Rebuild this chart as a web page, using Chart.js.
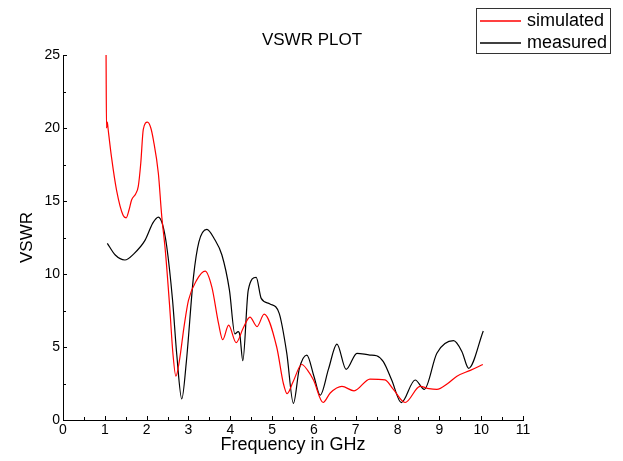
<!DOCTYPE html>
<html>
<head>
<meta charset="utf-8">
<script src="https://cdn.jsdelivr.net/npm/chart.js@4/dist/chart.umd.min.js"></script>
<style>
  html, body { margin: 0; padding: 0; background: #fff; }
  #wrap { width: 623px; height: 461px; }
</style>
</head>
<body>
<div id="wrap"><canvas id="c" width="623" height="461"></canvas></div>
<script>
// frequency (GHz) and VSWR
const simFreq = [1.03, 1.04, 1.06, 1.08, 1.16, 1.28, 1.44, 1.51, 1.58, 1.64, 1.74, 1.80, 1.86, 1.92, 2.02, 2.10, 2.16, 2.28, 2.36, 2.45, 2.55, 2.63, 2.70, 2.78, 2.90, 3.00, 3.20, 3.40, 3.56, 3.72, 3.82, 3.96, 4.14, 4.31, 4.47, 4.64, 4.81, 5.11, 5.27, 5.36, 5.50, 5.71, 5.85, 5.99, 6.22, 6.39, 6.67, 6.96, 7.34, 7.70, 7.90, 8.18, 8.54, 8.75, 8.94, 9.20, 9.42, 9.74, 10.04];
const simVswr = [25.0, 20.0, 20.4, 19.9, 18.0, 15.75, 14.0, 13.85, 14.4, 15.07, 15.5, 16.0, 17.6, 19.9, 20.4, 20.0, 19.2, 16.9, 14.0, 11.5, 7.8, 4.5, 3.0, 4.0, 6.5, 8.2, 9.6, 10.2, 9.1, 6.6, 5.5, 6.5, 5.3, 6.3, 7.05, 6.4, 7.25, 5.0, 2.5, 1.8, 2.6, 3.8, 3.4, 2.74, 1.2, 1.85, 2.3, 2.0, 2.8, 2.75, 2.1, 1.2, 2.3, 2.15, 2.1, 2.5, 3.0, 3.4, 3.8];

const measFreq = [1.06, 1.25, 1.48, 1.70, 1.96, 2.15, 2.28, 2.38, 2.48, 2.62, 2.72, 2.84, 2.95, 3.12, 3.25, 3.44, 3.62, 3.80, 3.98, 4.11, 4.19, 4.23, 4.30, 4.43, 4.62, 4.74, 4.95, 5.17, 5.35, 5.51, 5.65, 5.83, 6.00, 6.15, 6.35, 6.55, 6.77, 7.03, 7.34, 7.50, 7.66, 7.86, 8.09, 8.42, 8.64, 8.94, 9.34, 9.54, 9.70, 10.05];
const measVswr = [12.1, 11.3, 10.96, 11.4, 12.3, 13.5, 13.9, 13.4, 11.9, 8.2, 4.5, 1.44, 4.0, 9.8, 12.2, 13.06, 12.4, 11.3, 8.9, 5.9, 6.05, 5.8, 4.06, 8.9, 9.77, 8.33, 7.95, 7.3, 4.6, 1.14, 3.5, 4.45, 3.0, 1.7, 3.5, 5.2, 3.47, 4.57, 4.45, 4.4, 4.0, 2.74, 1.19, 2.74, 2.1, 4.57, 5.43, 4.68, 3.54, 6.1];

const seriesNames = ['simulated', 'measured'];
const seriesColors = ['#ff0000', '#000000'];
const chartTitle = 'VSWR PLOT';

const FONT = 'Liberation Sans, Arial, sans-serif';

function pts(xs, ys) {
  return xs.map((x, i) => ({ x: x, y: ys[i] }));
}

// small inward ticks, major + minor
const tickMarks = {
  id: 'tickMarks',
  afterDraw(chart) {
    const ctx = chart.ctx;
    const x = chart.scales.x, y = chart.scales.y;
    ctx.save();
    ctx.strokeStyle = '#000';
    ctx.lineWidth = 1;
    ctx.beginPath();
    for (let v = 0; v <= 11.001; v += 0.5) {
      const px = Math.round(x.getPixelForValue(v)) + 0.5;
      const len = Math.abs(v - Math.round(v)) < 1e-6 ? 4 : 3;
      ctx.moveTo(px, y.bottom);
      ctx.lineTo(px, y.bottom - len);
    }
    for (let v = 0; v <= 25.001; v += 2.5) {
      const py = Math.round(y.getPixelForValue(v)) + 0.5;
      const len = v % 5 === 0 ? 4 : 3;
      ctx.moveTo(x.left, py);
      ctx.lineTo(x.left + len, py);
    }
    ctx.stroke();
    ctx.restore();
  }
};

// title centred on the whole figure, boxed legend in the top right corner
const decorations = {
  id: 'decorations',
  afterDraw(chart) {
    const ctx = chart.ctx;
    ctx.save();
    ctx.fillStyle = '#000';
    ctx.font = '17px ' + FONT;
    ctx.textAlign = 'center';
    ctx.textBaseline = 'middle';
    ctx.fillText(chartTitle, 312, 40);

    ctx.lineWidth = 1;
    ctx.strokeStyle = '#333';
    ctx.strokeRect(476.5, 8.5, 134, 45);
    ctx.font = '18px ' + FONT;
    ctx.textAlign = 'left';
    for (let i = 0; i < seriesNames.length; i++) {
      const yy = 21 + i * 22;
      ctx.beginPath();
      ctx.lineWidth = 1.5;
      ctx.strokeStyle = seriesColors[i];
      ctx.moveTo(480, yy);
      ctx.lineTo(521, yy);
      ctx.stroke();
      ctx.fillStyle = '#000';
      ctx.fillText(seriesNames[i], 527, yy);
    }
    ctx.restore();
  }
};

new Chart(document.getElementById('c'), {
  type: 'line',
  data: {
    datasets: [
      {
        label: seriesNames[0],
        data: pts(simFreq, simVswr),
        borderColor: seriesColors[0],
        borderWidth: 1.2,
        pointRadius: 0,
        cubicInterpolationMode: 'monotone',
        fill: false
      },
      {
        label: seriesNames[1],
        data: pts(measFreq, measVswr),
        borderColor: seriesColors[1],
        borderWidth: 1.2,
        pointRadius: 0,
        cubicInterpolationMode: 'monotone',
        fill: false
      }
    ]
  },
  options: {
    responsive: false,
    animation: false,
    layout: { padding: { left: 0, right: 100, top: 55, bottom: 0 } },
    plugins: {
      legend: { display: false },
      tooltip: { enabled: false },
      title: { display: false }
    },
    scales: {
      x: {
        type: 'linear',
        min: 0,
        max: 11,
        grid: { display: false, drawTicks: false },
        border: { display: true, color: '#000', width: 1 },
        ticks: { stepSize: 1, padding: 2, color: '#000', font: { family: FONT, size: 14 } },
        title: {
          display: true,
          text: 'Frequency in GHz',
          color: '#000',
          font: { family: FONT, size: 18 },
          padding: { top: 0, bottom: 5 }
        },
        afterFit(s) { s.height = 41; }
      },
      y: {
        min: 0,
        max: 25,
        grid: { display: false, drawTicks: false },
        border: { display: true, color: '#000', width: 1 },
        ticks: { stepSize: 5, padding: 3, color: '#000', font: { family: FONT, size: 14 } },
        title: {
          display: true,
          text: 'VSWR',
          color: '#000',
          font: { family: FONT, size: 17 },
          padding: { top: 17, bottom: 0 }
        },
        afterFit(s) { s.width = 63; }
      }
    }
  },
  plugins: [tickMarks, decorations]
});
</script>
</body>
</html>
